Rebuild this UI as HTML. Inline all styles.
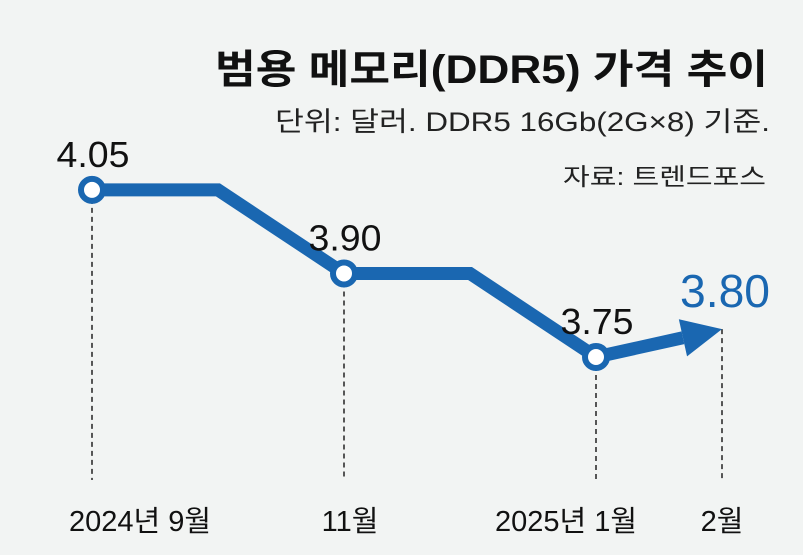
<!DOCTYPE html>
<html><head><meta charset="utf-8"><style>
body{margin:0;background:#f2f4f3;}
svg{display:block;font-family:"Liberation Sans","Noto Sans CJK KR",sans-serif;}
</style></head><body>
<svg id="c" width="803" height="555" viewBox="0 0 803 555">
<rect width="803" height="555" fill="#f2f4f3"/>
<text x="768" y="83" text-anchor="end" font-size="40" font-weight="bold" fill="#111" textLength="553" lengthAdjust="spacingAndGlyphs">범용 메모리(DDR5) 가격 추이</text>
<text x="770" y="131" text-anchor="end" font-size="27" fill="#222" textLength="495" lengthAdjust="spacingAndGlyphs">단위: 달러. DDR5 16Gb(2G×8) 기준.</text>
<text x="766" y="185" text-anchor="end" font-size="24" fill="#222" textLength="203" lengthAdjust="spacingAndGlyphs">자료: 트렌드포스</text>
<g id="marks"></g>
</svg>
<script>
const months=["2024년 9월","10월","11월","12월","2025년 1월","2월"];
const values=[4.05,4.05,3.90,3.90,3.75,3.80];
const shownLabels=[0,2,4,5];
const labelShift=[48,0,6,0,-30,0];
const x=i=>92+i*126;
const y=v=>357-(v-3.75)*557;
const ns="http://www.w3.org/2000/svg";
const g=document.getElementById('marks');
function mk(t,a){const e=document.createElementNS(ns,t);for(const k in a)e.setAttribute(k,a[k]);g.appendChild(e);return e;}
shownLabels.forEach(i=>{
 const d=mk('line',{x1:x(i),y1:y(values[i]),x2:x(i),y2:480,stroke:'#222','stroke-width':1.5,'stroke-dasharray':'5,4'});
 
 
 const t=mk('text',{x:x(i)+labelShift[i],y:531,'text-anchor':'middle','font-size':29,fill:'#111'});
 t.textContent=months[i];
 
 
});
const n=values.length;
let pts=[];for(let i=0;i<n-1;i++)pts.push(x(i)+','+y(values[i]));
const x1=x(n-2),y1=y(values[n-2]),x2=x(n-1),y2=y(values[n-1]);
const ang=Math.atan2(y2-y1,x2-x1),L=40;
const bx=x2-L*Math.cos(ang),by=y2-L*Math.sin(ang);
pts.push(bx+','+by);
const line=mk('polyline',{points:pts.join(' '),fill:'none',stroke:'#1a67b1','stroke-width':13,'stroke-linejoin':'miter'});


const w=19,px=-Math.sin(ang),py=Math.cos(ang);
const head=mk('polygon',{points:`${x2},${y2} ${bx+px*w},${by+py*w} ${bx-px*w},${by-py*w}`,fill:'#1a67b1'});


shownLabels.forEach(i=>{
 if(i<n-1){
  const c=mk('circle',{cx:x(i),cy:y(values[i]),r:11,fill:'#fff',stroke:'#1a67b1','stroke-width':6});
  
  
  const t=mk('text',{x:x(i)+1,y:y(values[i])-23,'text-anchor':'middle','font-size':36,fill:'#111',textLength:73,lengthAdjust:'spacingAndGlyphs'});
  t.textContent=values[i].toFixed(2);
  
  
 } else {
  const t=mk('text',{x:x(i)+3,y:y(values[i])-22,'text-anchor':'middle','font-size':46,fill:'#1a67b1',textLength:90,lengthAdjust:'spacingAndGlyphs'});
  t.textContent=values[i].toFixed(2);
  
  
 }
});
</script>
</body></html>
